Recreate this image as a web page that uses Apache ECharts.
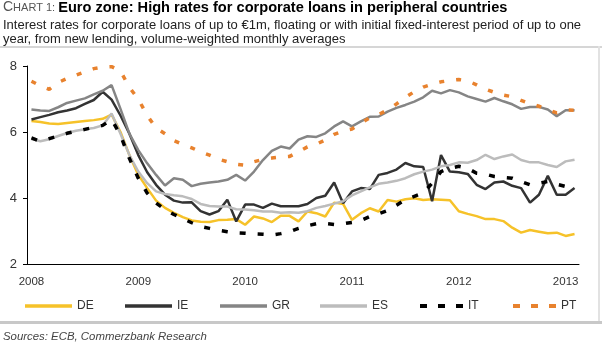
<!DOCTYPE html>
<html>
<head>
<meta charset="utf-8">
<script src="https://cdn.jsdelivr.net/npm/echarts@6/dist/echarts.min.js"></script>
<style>
html,body{margin:0;padding:0;background:#fff;}
#chart{width:602px;height:345px;}
</style>
</head>
<body>
<div id="chart"></div>
<script>
// Monthly categories Jan 2008 - Feb 2013
const months = [];
for (let y = 2008; y <= 2013; y++) {
  for (let m = 1; m <= 12; m++) {
    if (months.length < 62) months.push(y + '-' + (m < 10 ? '0' + m : m));
  }
}
const seriesNames = ['DE', 'IE', 'GR', 'ES', 'IT', 'PT'];
const yTicks = [2, 4, 6, 8];

const DE = [6.33,6.3,6.26,6.24,6.27,6.3,6.33,6.36,6.4,6.53,
  6.0,5.3,4.7,4.3,3.92,3.7,3.55,3.42,3.32,3.28,
  3.27,3.33,3.34,3.36,3.19,3.44,3.38,3.27,3.46,3.46,
  3.29,3.59,3.54,3.44,3.86,3.82,3.34,3.54,3.69,3.59,
  3.94,3.89,3.96,3.99,3.94,3.96,3.95,3.93,3.6,3.52,
  3.45,3.36,3.36,3.3,3.1,2.95,3.03,2.98,2.93,2.95,
  2.85,2.91];
const IE = [6.38,6.45,6.52,6.6,6.65,6.72,6.85,6.97,7.22,6.98,
  6.5,5.95,5.3,4.78,4.4,4.1,3.92,3.86,3.87,3.6,
  3.5,3.6,3.95,3.29,3.8,3.8,3.7,3.83,3.75,3.75,
  3.75,3.82,4.0,4.07,4.47,3.84,4.2,4.3,4.27,4.7,
  4.76,4.86,5.06,4.96,4.94,3.9,5.3,4.8,4.78,4.73,
  4.4,4.27,4.47,4.5,4.37,4.3,3.86,4.1,4.67,4.1,
  4.1,4.3];
const GR = [6.68,6.65,6.64,6.75,6.88,6.95,7.02,7.14,7.25,7.42,
  6.7,5.95,5.45,5.05,4.7,4.38,4.6,4.55,4.36,4.43,
  4.47,4.5,4.55,4.7,4.53,4.8,5.15,5.43,5.56,5.5,
  5.77,5.87,5.85,5.96,6.17,6.32,6.17,6.32,6.46,6.47,
  6.62,6.73,6.82,6.92,7.05,7.25,7.17,7.27,7.2,7.08,
  7.0,6.92,7.03,6.93,6.84,6.7,6.76,6.76,6.68,6.48,
  6.66,6.66];
const ES = [5.79,5.72,5.78,5.88,5.97,6.04,6.08,6.12,6.2,6.56,
  5.95,5.3,4.8,4.45,4.2,4.12,4.08,4.05,3.97,3.82,
  3.76,3.74,3.74,3.66,3.65,3.63,3.59,3.59,3.55,3.57,
  3.55,3.6,3.7,3.76,3.83,3.9,4.08,4.2,4.32,4.43,
  4.47,4.52,4.6,4.72,4.8,4.86,4.96,5.0,5.08,5.07,
  5.15,5.31,5.18,5.26,5.32,5.15,5.08,5.08,5.0,4.94,
  5.11,5.16];
const IT = [5.82,5.72,5.8,5.88,5.96,6.02,6.08,6.14,6.2,6.38,
  5.9,5.2,4.6,4.15,3.85,3.65,3.5,3.38,3.25,3.14,
  3.08,3.02,2.98,2.94,2.93,2.91,2.9,2.88,2.92,2.98,
  3.08,3.16,3.22,3.23,3.2,3.22,3.26,3.32,3.44,3.52,
  3.62,3.78,3.95,4.05,4.15,4.45,4.8,4.9,4.96,4.9,
  4.75,4.72,4.65,4.62,4.6,4.5,4.4,4.45,4.5,4.42,
  4.35,4.35];
const PT = [7.54,7.4,7.29,7.5,7.62,7.72,7.82,7.92,7.97,7.98,
  7.85,7.35,7.0,6.5,6.12,5.95,5.74,5.62,5.52,5.4,
  5.3,5.18,5.1,5.02,4.99,5.1,5.17,5.21,5.24,5.26,
  5.4,5.55,5.63,5.76,5.93,6.03,6.09,6.27,6.43,6.53,
  6.67,6.85,7.05,7.22,7.36,7.45,7.52,7.56,7.59,7.55,
  7.43,7.3,7.2,7.12,7.07,6.96,6.86,6.78,6.68,6.58,
  6.67,6.66];

const values = {DE, IE, GR, ES, IT, PT};
const styles = {
  DE: {color: '#F6C229', width: 2.5, type: 'solid'},
  IE: {color: '#333333', width: 2.5, type: 'solid'},
  GR: {color: '#858585', width: 2.5, type: 'solid'},
  ES: {color: '#BCBCBC', width: 2.5, type: 'solid'},
  IT: {color: '#000000', width: 3.5, type: [6, 12]},
  PT: {color: '#E8822E', width: 3.5, type: [5, 12]}
};
const legendLeft = {DE: 25, IE: 125, GR: 220, ES: 320, IT: 420, PT: 513};
const DASH_ICON = 'path://M0,0h7v4h-7z M18,0h7v4h-7z M36,0h7v4h-7z';
const FONT = '"Liberation Sans", Arial, sans-serif';

const chart = echarts.init(document.getElementById('chart'), null, {renderer: 'canvas'});
const option = {
  animation: false,
  backgroundColor: '#fff',
  textStyle: {fontFamily: FONT},
  grid: {left: 27, right: 23, top: 66, bottom: 81, containLabel: false},
  xAxis: {
    type: 'category',
    data: months,
    boundaryGap: true,
    axisLine: {lineStyle: {color: '#000', width: 1}},
    axisTick: {interval: 11, length: 4, lineStyle: {color: '#000'}},
    axisLabel: {
      interval: 11, color: '#333', fontSize: 11.5, fontFamily: FONT, margin: 12,
      formatter: v => v.slice(0, 4)
    },
    splitLine: {show: false}
  },
  yAxis: {
    type: 'value', min: yTicks[0], max: yTicks[yTicks.length - 1], interval: 2,
    axisLine: {show: true, lineStyle: {color: '#000', width: 1}},
    axisTick: {show: true, length: 4, lineStyle: {color: '#000'}},
    axisLabel: {color: '#333', fontSize: 13, fontFamily: FONT, margin: 10},
    splitLine: {show: false}
  },
  legend: seriesNames.map(n => {
    const dashed = styles[n].type !== 'solid';
    return {
      data: [{name: n, icon: dashed ? DASH_ICON : 'rect'}],
      left: legendLeft[n], top: 300,
      itemWidth: dashed ? 43 : 47, itemHeight: dashed ? 4 : 3.5,
      textStyle: {color: '#333', fontSize: 12, fontFamily: FONT},
      padding: 0
    };
  }),
  series: seriesNames.map((n, k) => ({
    name: n, type: 'line', data: values[n], symbol: 'none', z: 2 + k,
    lineStyle: {color: styles[n].color, width: styles[n].width, type: styles[n].type},
    itemStyle: {color: styles[n].color}
  })),
  graphic: [
    {type: 'text', left: 3, top: 0, style: {
      text: '{a|C}{b|HART 1: }{c|Euro zone: High rates for corporate loans in peripheral countries}',
      rich: {
        a: {fontSize: 14, fill: '#555', fontFamily: FONT},
        b: {fontSize: 11, fill: '#555', fontFamily: FONT},
        c: {fontSize: 14.6, fill: '#000', fontWeight: 'bold', fontFamily: FONT}
      }
    }},
    {type: 'text', left: 3, top: 18.5, style: {
      text: 'Interest rates for corporate loans of up to €1m, floating or with initial fixed-interest period of up to one\nyear, from new lending, volume-weighted monthly averages',
      fontSize: 13, lineHeight: 14, fill: '#222', fontFamily: FONT
    }},
    {type: 'rect', shape: {x: 0, y: 46, width: 602, height: 2}, style: {fill: '#d6d6d6'}},
    {type: 'rect', shape: {x: 598, y: 46, width: 2, height: 276}, style: {fill: '#e2e2e2'}},
    {type: 'rect', shape: {x: 0, y: 321, width: 602, height: 3}, style: {fill: '#c8c8c8'}},
    {type: 'text', left: 3, top: 331, style: {
      text: 'Sources: ECB, Commerzbank Research', fontSize: 11.4, fontStyle: 'italic',
      fill: '#444', fontFamily: FONT
    }}
  ]
};
chart.setOption(option);
</script>
</body>
</html>
